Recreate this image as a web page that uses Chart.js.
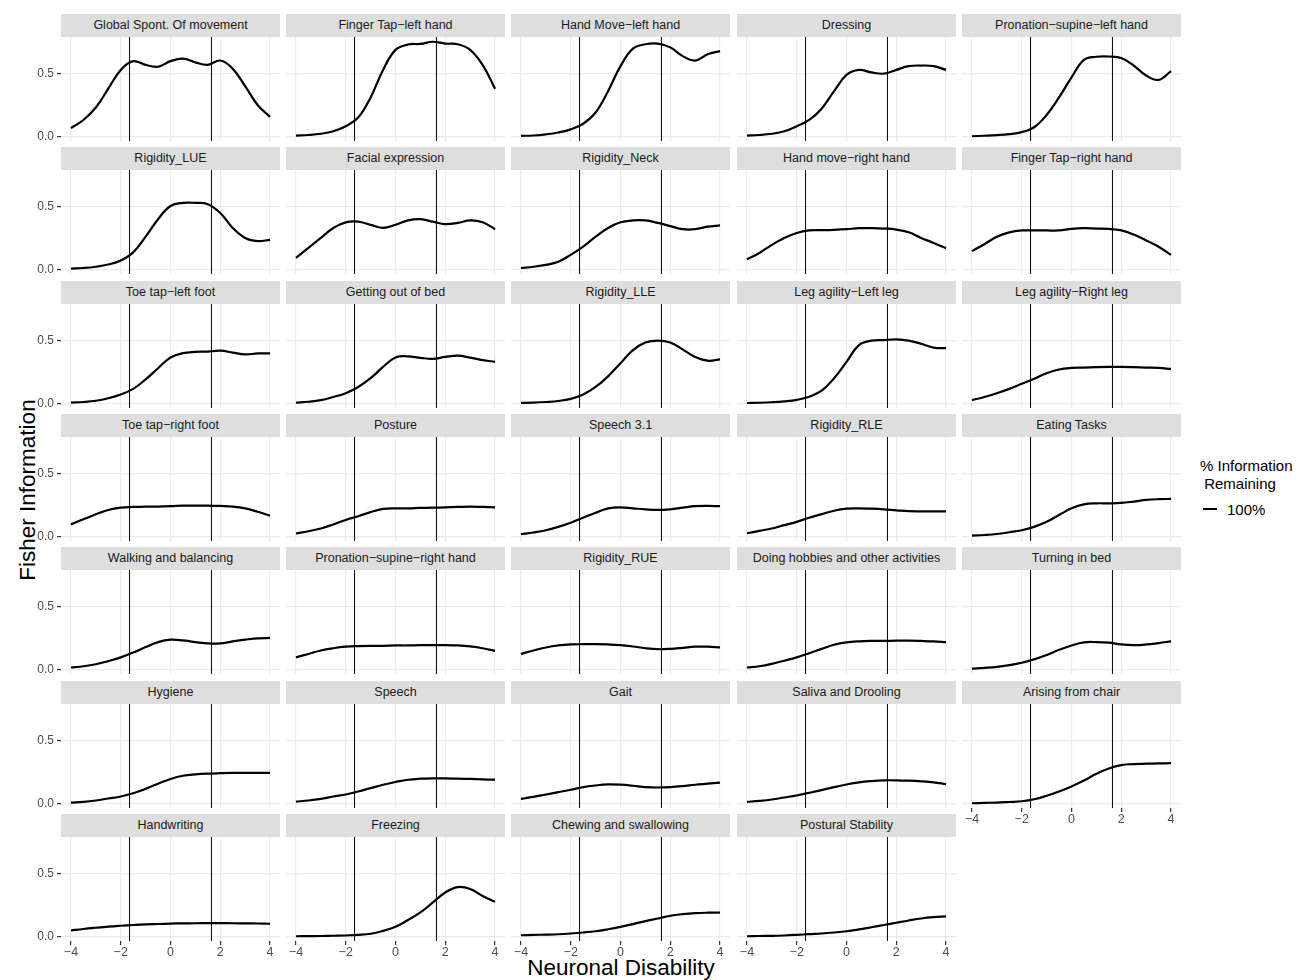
<!DOCTYPE html>
<html>
<head>
<meta charset="utf-8">
<script src="https://cdn.jsdelivr.net/npm/chart.js@4.4.1/dist/chart.umd.min.js"></script>
<style>
  body { margin: 0; background: #fff; font-family: 'Liberation Sans', Arial, sans-serif; }
  #fig { position: relative; width: 1300px; height: 980px; overflow: hidden; background: #fff; }
  .strip { position: absolute; height: 23px; line-height: 23px; background: #DEDEDE; color: #1A1A1A;
           font-size: 12.5px; text-align: center; white-space: nowrap; }
  canvas { position: absolute; }
  .ytitle { position: absolute; left: -122px; top: 477px; width: 300px; height: 26px; line-height: 26px;
            text-align: center; font-size: 22.5px; transform: rotate(-90deg); }
  .xtitle { position: absolute; left: 321px; top: 955px; width: 600px; height: 26px; line-height: 26px;
            text-align: center; font-size: 22.5px; }
  .legtitle { position: absolute; left: 1200px; top: 457px; font-size: 15px; line-height: 18px; white-space: pre; }
  .legkey { position: absolute; left: 1203px; top: 508px; width: 14px; height: 2px; background: #000; }
  .leglab { position: absolute; left: 1227px; top: 501px; font-size: 15px; line-height: 18px; }
</style>
</head>
<body>
<div id="fig">
  <div class="ytitle">Fisher Information</div>
  <div class="xtitle">Neuronal Disability</div>
  <div class="legtitle">% Information
 Remaining</div>
  <div class="legkey"></div>
  <div class="leglab">100%</div>
</div>
<script>
// theta grid the curves are read at
const theta = [-4, -3.5, -3, -2.5, -2, -1.5, -1, -0.5, 0, 0.5, 1, 1.5, 2, 2.5, 3, 3.5, 4];
const cutoffs = [-1.645, 1.645];
const xTicks = [-4, -2, 0, 2, 4];
const yTicks = [0, 0.5];

const items = [
  'Global Spont. Of movement', 'Finger Tap\u2212left hand', 'Hand Move\u2212left hand', 'Dressing', 'Pronation\u2212supine\u2212left hand',
  'Rigidity_LUE', 'Facial expression', 'Rigidity_Neck', 'Hand move\u2212right hand', 'Finger Tap\u2212right hand',
  'Toe tap\u2212left foot', 'Getting out of bed', 'Rigidity_LLE', 'Leg agility\u2212Left leg', 'Leg agility\u2212Right leg',
  'Toe tap\u2212right foot', 'Posture', 'Speech 3.1', 'Rigidity_RLE', 'Eating Tasks',
  'Walking and balancing', 'Pronation\u2212supine\u2212right hand', 'Rigidity_RUE', 'Doing hobbies and other activities', 'Turning in bed',
  'Hygiene', 'Speech', 'Gait', 'Saliva and Drooling', 'Arising from chair',
  'Handwriting', 'Freezing', 'Chewing and swallowing', 'Postural Stability'
];

// fisher information per item, same order as items, values at theta
const fisherInfo = [
  [0.065,0.13,0.23,0.38,0.53,0.60,0.57,0.555,0.60,0.62,0.59,0.57,0.605,0.54,0.40,0.25,0.155],
  [0.005,0.01,0.02,0.04,0.08,0.15,0.31,0.53,0.69,0.733,0.738,0.755,0.74,0.735,0.69,0.57,0.38],
  [0.003,0.006,0.015,0.03,0.055,0.10,0.19,0.36,0.56,0.70,0.735,0.74,0.71,0.64,0.605,0.655,0.68],
  [0.005,0.01,0.02,0.04,0.08,0.13,0.22,0.36,0.49,0.53,0.51,0.50,0.53,0.56,0.565,0.56,0.53],
  [0.0,0.004,0.009,0.017,0.033,0.072,0.17,0.31,0.47,0.61,0.635,0.637,0.625,0.565,0.485,0.45,0.52],
  [0.005,0.01,0.02,0.038,0.07,0.135,0.26,0.40,0.505,0.53,0.53,0.52,0.45,0.33,0.25,0.225,0.235],
  [0.09,0.17,0.25,0.33,0.375,0.38,0.355,0.33,0.355,0.39,0.40,0.38,0.36,0.37,0.39,0.375,0.32],
  [0.01,0.02,0.035,0.06,0.115,0.18,0.26,0.33,0.375,0.39,0.39,0.37,0.345,0.32,0.32,0.34,0.35],
  [0.08,0.13,0.195,0.25,0.29,0.31,0.312,0.315,0.32,0.328,0.328,0.325,0.317,0.295,0.25,0.21,0.167],
  [0.145,0.2,0.26,0.295,0.31,0.31,0.31,0.31,0.323,0.328,0.325,0.322,0.31,0.277,0.23,0.18,0.115],
  [0.005,0.01,0.02,0.04,0.07,0.115,0.19,0.28,0.365,0.40,0.41,0.413,0.42,0.405,0.39,0.398,0.398],
  [0.005,0.012,0.025,0.05,0.08,0.13,0.2,0.29,0.365,0.375,0.363,0.355,0.37,0.38,0.365,0.345,0.33],
  [0.003,0.005,0.01,0.018,0.035,0.07,0.13,0.215,0.32,0.425,0.485,0.5,0.485,0.43,0.37,0.34,0.35],
  [0.002,0.004,0.008,0.015,0.027,0.052,0.1,0.2,0.33,0.465,0.5,0.505,0.51,0.5,0.475,0.445,0.44],
  [0.025,0.05,0.08,0.115,0.155,0.195,0.24,0.27,0.282,0.285,0.288,0.29,0.29,0.288,0.285,0.282,0.274],
  [0.095,0.135,0.175,0.21,0.228,0.234,0.237,0.237,0.24,0.245,0.245,0.245,0.242,0.237,0.223,0.196,0.164],
  [0.022,0.04,0.062,0.094,0.13,0.16,0.193,0.218,0.223,0.223,0.226,0.228,0.231,0.234,0.237,0.234,0.231],
  [0.016,0.03,0.048,0.075,0.108,0.148,0.188,0.223,0.231,0.223,0.215,0.21,0.215,0.228,0.24,0.242,0.24],
  [0.024,0.043,0.062,0.089,0.115,0.148,0.177,0.204,0.22,0.223,0.22,0.215,0.207,0.2,0.199,0.199,0.199],
  [0.005,0.01,0.018,0.032,0.048,0.075,0.115,0.17,0.223,0.255,0.263,0.263,0.266,0.277,0.29,0.296,0.298],
  [0.014,0.024,0.04,0.065,0.095,0.133,0.177,0.217,0.236,0.23,0.217,0.206,0.206,0.223,0.236,0.247,0.25],
  [0.095,0.122,0.15,0.168,0.18,0.185,0.187,0.187,0.19,0.19,0.193,0.193,0.193,0.19,0.182,0.168,0.147],
  [0.122,0.15,0.174,0.19,0.198,0.2,0.2,0.198,0.193,0.182,0.168,0.16,0.163,0.171,0.18,0.18,0.174],
  [0.014,0.024,0.043,0.068,0.095,0.128,0.163,0.196,0.215,0.223,0.226,0.226,0.228,0.228,0.226,0.223,0.217],
  [0.005,0.011,0.019,0.033,0.052,0.079,0.114,0.155,0.19,0.215,0.217,0.212,0.198,0.193,0.198,0.209,0.223],
  [0.005,0.011,0.022,0.038,0.054,0.08,0.115,0.156,0.194,0.22,0.231,0.237,0.24,0.242,0.242,0.242,0.242],
  [0.013,0.022,0.035,0.054,0.07,0.094,0.121,0.148,0.17,0.188,0.196,0.199,0.199,0.196,0.194,0.191,0.188],
  [0.035,0.051,0.07,0.089,0.108,0.129,0.142,0.15,0.148,0.14,0.129,0.126,0.129,0.137,0.148,0.156,0.164],
  [0.011,0.019,0.03,0.046,0.062,0.083,0.105,0.129,0.15,0.167,0.177,0.183,0.183,0.18,0.175,0.167,0.153],
  [0.0,0.003,0.005,0.01,0.016,0.032,0.06,0.094,0.134,0.182,0.235,0.278,0.305,0.313,0.316,0.318,0.32],
  [0.046,0.058,0.068,0.077,0.084,0.09,0.095,0.098,0.101,0.103,0.104,0.105,0.105,0.104,0.103,0.102,0.1],
  [0.0,0.001,0.002,0.004,0.006,0.011,0.02,0.043,0.075,0.13,0.19,0.27,0.35,0.393,0.378,0.322,0.275],
  [0.008,0.011,0.013,0.016,0.022,0.03,0.04,0.056,0.075,0.097,0.121,0.142,0.164,0.177,0.185,0.188,0.188],
  [0.0,0.002,0.003,0.006,0.011,0.017,0.022,0.03,0.04,0.055,0.072,0.09,0.108,0.126,0.142,0.152,0.158]
];

const fig = document.getElementById('fig');
const colLeft = [61, 286, 511, 737, 962];
const PW = 219, PH = 104;
const fontFam = "'Liberation Sans', Arial, sans-serif";

items.forEach((name, i) => {
  const col = i % 5, row = Math.floor(i / 5);
  const top = Math.round(37 + row * 133.33);

  const strip = document.createElement('div');
  strip.className = 'strip';
  strip.style.left = colLeft[col] + 'px';
  strip.style.top = (top - 23) + 'px';
  strip.style.width = PW + 'px';
  strip.textContent = name;
  fig.appendChild(strip);

  const cv = document.createElement('canvas');
  cv.width = 40 + PW + 12;
  cv.height = 8 + PH + 22;
  cv.style.left = (colLeft[col] - 40) + 'px';
  cv.style.top = (top - 8) + 'px';
  fig.appendChild(cv);

  const showX = i >= 29;
  const showY = col === 0;

  const datasets = [{
    data: theta.map((t, j) => ({ x: t, y: fisherInfo[i][j] })),
    borderColor: '#000',
    borderWidth: 2.2,
    pointRadius: 0,
    tension: 0.4
  }];
  cutoffs.forEach(c => {
    datasets.push({
      data: [{ x: c, y: -1 }, { x: c, y: 2 }],
      borderColor: '#000',
      borderWidth: 1,
      pointRadius: 0
    });
  });

  new Chart(cv, {
    type: 'line',
    data: { datasets },
    options: {
      responsive: false,
      animation: false,
      events: [],
      layout: { padding: { top: 8, right: 12, bottom: 0, left: 0 } },
      plugins: { legend: { display: false }, tooltip: { enabled: false } },
      scales: {
        x: {
          type: 'linear', min: -4.4, max: 4.4,
          afterBuildTicks: s => { s.ticks = xTicks.map(v => ({ value: v })); },
          afterFit: s => { s.height = 22; s.paddingLeft = 0; s.paddingRight = 0; },
          border: { display: false },
          grid: { color: '#EBEBEB', lineWidth: 1.2, drawTicks: showX, tickLength: 4, tickColor: '#333' },
          ticks: {
            display: showX, padding: 0, color: '#4D4D4D', maxRotation: 0, autoSkip: false,
            font: { family: fontFam, size: 12.5 },
            callback: v => v < 0 ? '\u2212' + (-v) : String(v)
          }
        },
        y: {
          type: 'linear', min: -0.038, max: 0.793,
          afterBuildTicks: s => { s.ticks = yTicks.map(v => ({ value: v })); },
          afterFit: s => { s.width = 40; s.paddingTop = 0; s.paddingBottom = 0; },
          border: { display: false },
          grid: { color: '#EBEBEB', lineWidth: 1.2, drawTicks: showY, tickLength: 4, tickColor: '#333' },
          ticks: {
            display: showY, padding: 3, color: '#4D4D4D',
            font: { family: fontFam, size: 12 },
            callback: v => v.toFixed(1)
          }
        }
      }
    }
  });
});
</script>
</body>
</html>
